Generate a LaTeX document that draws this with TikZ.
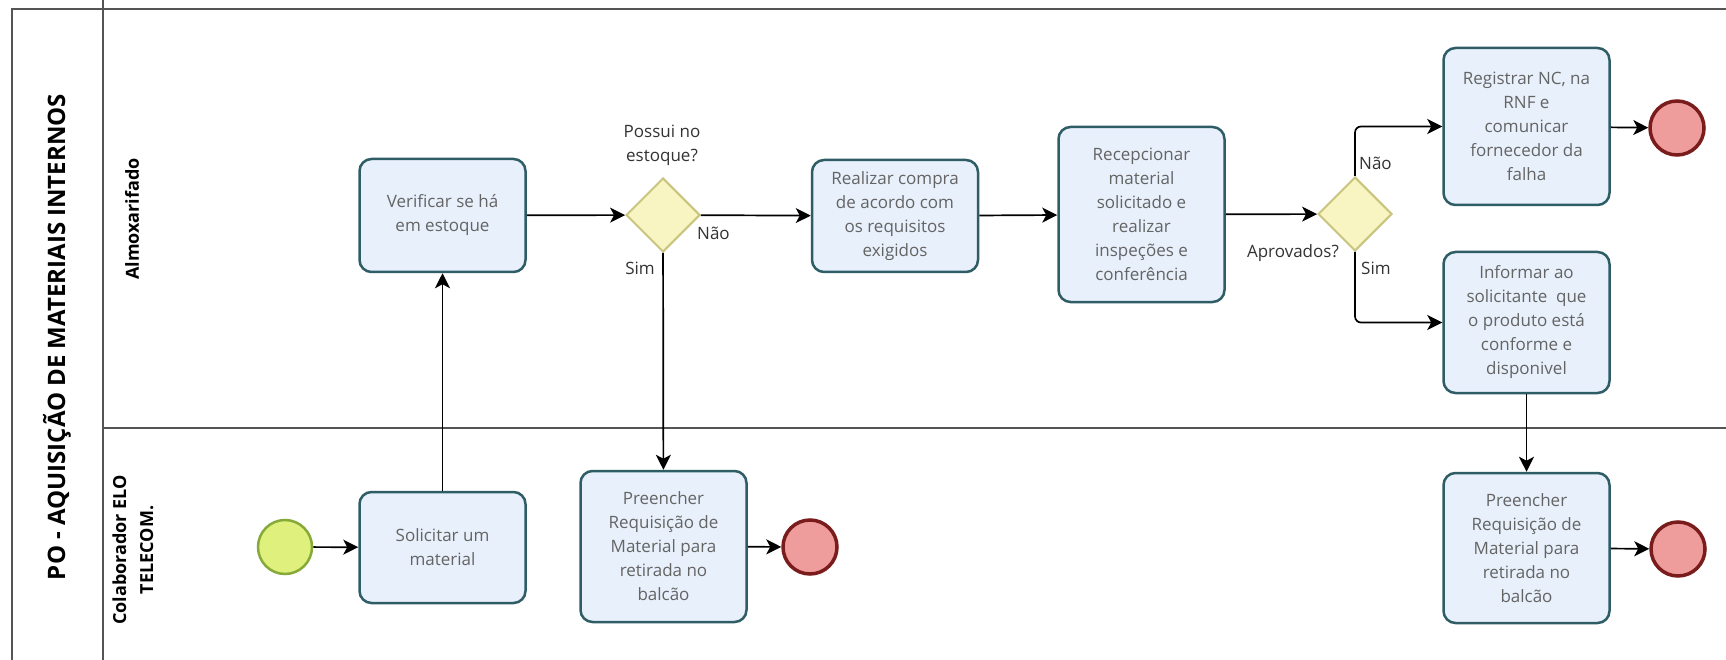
\documentclass[tikz,border=0pt]{standalone}
\usepackage{fontspec}
\setmainfont{Open Sans}
\usetikzlibrary{shapes.geometric,arrows.meta}
\definecolor{taskfill}{HTML}{E8F0FB}
\definecolor{taskdraw}{HTML}{2F5D66}
\definecolor{gwfill}{HTML}{F8F5C2}
\definecolor{gwdraw}{HTML}{C9C47E}
\definecolor{stfill}{HTML}{E0F07C}
\definecolor{stdraw}{HTML}{86AA3A}
\definecolor{enfill}{HTML}{EE9C9C}
\definecolor{endraw}{HTML}{7A1C1C}
\definecolor{poolc}{HTML}{555555}
\definecolor{tasktext}{HTML}{646464}
\definecolor{lbltext}{HTML}{333333}
\begin{document}
\begin{tikzpicture}[x=1pt,y=-1pt,
  task/.style={draw=taskdraw, line width=2.5pt, fill=taskfill, rounded corners=12pt,
    minimum width=166pt, align=center, text=tasktext, inner sep=2pt,
    font=\fontsize{17}{24}\selectfont},
  gw/.style={diamond, draw=gwdraw, line width=2pt, fill=gwfill, minimum width=74pt,
    minimum height=74pt, inner sep=0pt},
  startev/.style={circle, draw=stdraw, line width=2.5pt, fill=stfill, minimum size=54pt, inner sep=0pt},
  endev/.style={circle, draw=endraw, line width=3.5pt, fill=enfill, minimum size=54pt, inner sep=0pt},
  flow/.style={draw=black, line width=1.7pt, -{Stealth[length=15pt,width=15pt,inset=4pt]}},
  lbl/.style={text=lbltext, font=\fontsize{17}{24}\selectfont, inner sep=0pt, align=center},
  lane/.style={text=black, font=\fontsize{18}{27}\bfseries\selectfont, rotate=90, align=center, inner sep=0pt},
  poolline/.style={draw=poolc, line width=1.5pt}
]
\useasboundingbox (0,0) rectangle (1726,660);
\fill[white] (0,0) rectangle (1726,660);
% pool and lanes
\draw[poolline] (1726,9) -- (12,9) -- (12,660);
\draw[poolline] (103,0) -- (103,660);
\draw[poolline] (103,428) -- (1726,428);
\node[rotate=90, font=\fontsize{24}{28}\bfseries\selectfont, inner sep=0pt] (title) at (57,337) {PO - AQUISIÇÃO DE MATERIAIS INTERNOS};
\node[lane] (lane1) at (132,219) {Almoxarifado};
\node[lane] (lane2) at (133,550) {Colaborador ELO\\TELECOM.};

% nodes
\node[startev] (start) at (285,547) {};
\node[task, minimum height=111pt] (solic) at (442.5,547.5) {Solicitar um\\material};
\node[task, minimum height=113pt] (verif) at (442.5,215.5) {Verificar se há\\em estoque};
\node[gw] (d1) at (663,215) {};
\node[task, minimum height=112pt] (compra) at (895,216) {Realizar compra\\de acordo com\\os requisitos\\exigidos};
\node[task, minimum height=175pt] (recep) at (1141.5,214.5) {Recepcionar\\material\\solicitado e\\realizar\\inspeções e\\conferência};
\node[gw] (d2) at (1355,214) {};
\node[task, minimum height=157pt] (regis) at (1526.5,126.5) {Registrar NC, na\\RNF e\\comunicar\\fornecedor da\\falha};
\node[endev] (end1) at (1677,128) {};
\node[task, minimum height=141pt] (infor) at (1526.5,322.5) {Informar ao\\solicitante\ \ que\\o produto está\\conforme e\\disponivel};
\node[task, minimum height=150pt] (pre2) at (1526.5,548) {Preencher\\Requisição de\\Material para\\retirada no\\balcão};
\node[endev] (end3) at (1678,549) {};
\node[task, minimum height=151pt] (pre1) at (663.5,546.5) {Preencher\\Requisição de\\Material para\\retirada no\\balcão};
\node[endev] (end2) at (810,547) {};

% labels
\node[lbl] (q1) at (662,145) {Possui no\\estoque?};
\node[lbl, anchor=west] (n1) at (697,233) {Não};
\node[lbl] (s1) at (640,268) {Sim};
\node[lbl, anchor=east] (q2) at (1339,253) {Aprovados?};
\node[lbl, anchor=west] (n2) at (1359,163) {Não};
\node[lbl, anchor=west] (s2) at (1361,268) {Sim};

% flows
\draw[flow] (start) -- (solic);
\draw[flow] (solic) -- (verif);
\draw[flow] (verif) -- (d1);
\draw[flow] (d1) -- (compra);
\draw[flow] (d1) -- (pre1);
\draw[flow] (compra) -- (recep);
\draw[flow] (recep) -- (d2);
\draw[flow, rounded corners=6pt] (d2.north) |- (regis.west);
\draw[flow, rounded corners=6pt] (d2.south) |- (infor.west);
\draw[flow] (regis) -- (end1);
\draw[flow] (infor) -- (pre2);
\draw[flow] (pre2) -- (end3);
\draw[flow] (pre1) -- (end2);
\end{tikzpicture}
\end{document}
